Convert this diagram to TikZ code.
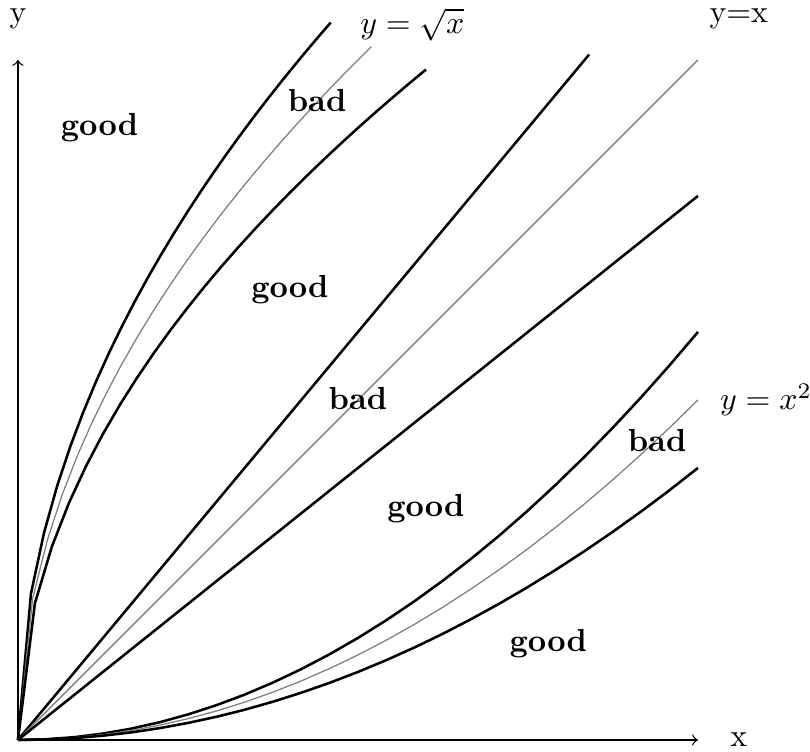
\documentclass[tikz,border=0pt]{standalone}
\usetikzlibrary{positioning}
\begin{document}
\begin{tikzpicture}[x=1.5cm,y=1.5cm,
  band/.style={thick},
  refcurve/.style={gray},
  region/.style={font=\bfseries}]
  \useasboundingbox (-0.132,-0.088) rectangle (5.824,5.441);
  % axes
  \coordinate (O) at (0,0);
  \coordinate (xend) at (5,0);
  \coordinate (yend) at (0,5);
  \draw[->] (O) -- (xend);
  \draw[->] (O) -- (yend);
  \node (xlab) at (5.3,0) {x};
  \node (ylab) at (0,5.3) {y};
  % around y = sqrt(x)
  \draw[band,domain=0:2.3] plot (\x,{1.1*sqrt(10*\x)});
  \draw[refcurve,domain=0:2.6] plot (\x,{sqrt(10*\x)});
  \draw[band,domain=0:3] plot (\x,{0.9*sqrt(10*\x)});
  \node[inner sep=0pt] (sqrtlab) at (2.9,5.26) {$y=\sqrt{x}$};
  % around y = x
  \draw[band] (O) -- (4.2,5.04);
  \draw[refcurve] (O) -- (5,5);
  \draw[band] (O) -- (5,4);
  \node (linlab) at (5.3,5.3) {y=x};
  % around y = x^2
  \draw[band,domain=0:5] plot (\x,{0.12*\x*\x});
  \draw[refcurve,domain=0:5] plot (\x,{0.1*\x*\x});
  \draw[band,domain=0:5] plot (\x,{0.08*\x*\x});
  \node (sqlab) at (5.5,2.5) {$y=x^2$};
  % regions
  \node[region] (good1) at (0.6,4.5) {good};
  \node[region] (bad1) at (2.2,4.7) {bad};
  \node[region] (good2) at (2.0,3.31) {good};
  \node[region] (bad2) at (2.5,2.51) {bad};
  \node[region] (good3) at (3.0,1.7) {good};
  \node[region] (bad3) at (4.7,2.2) {bad};
  \node[region] (good4) at (3.9,0.71) {good};
\end{tikzpicture}
\end{document}
